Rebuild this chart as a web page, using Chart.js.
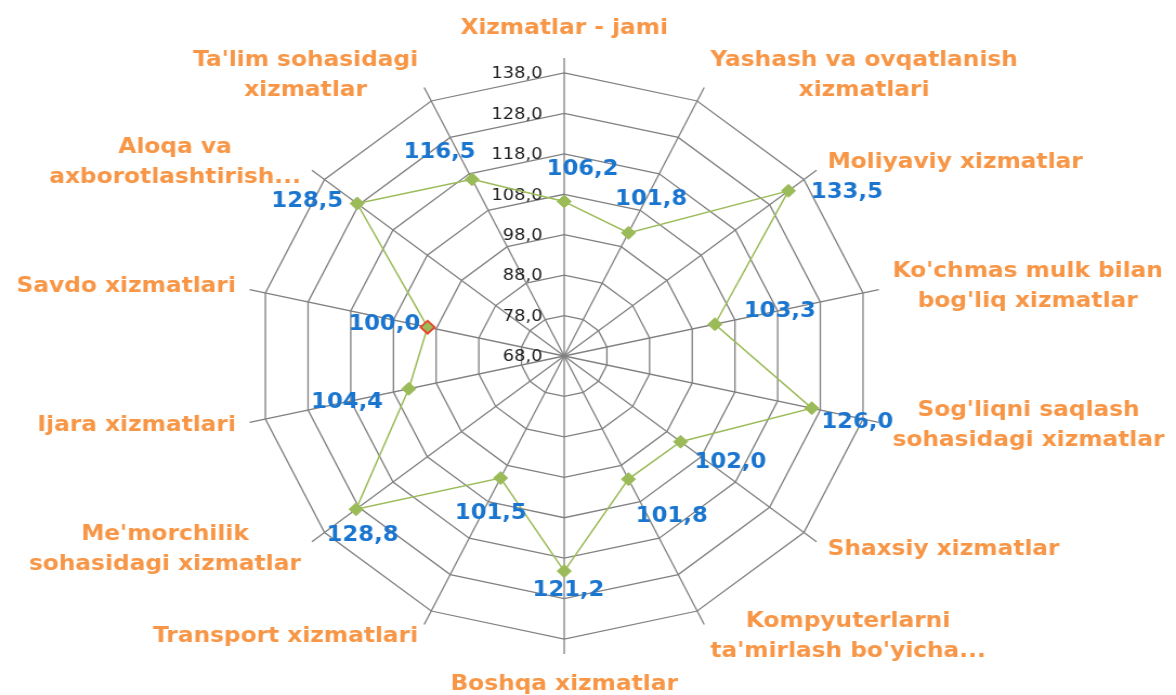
<!DOCTYPE html>
<html lang="uz">
<head>
    <meta charset="UTF-8">
    <title>Xizmatlar radar</title>
    <script src="https://cdn.jsdelivr.net/npm/chart.js"></script>
    <style>
        body { margin: 0; background: #fff; overflow: hidden; }
        /* the source picture is stretched sideways a little, so we stretch the canvas the same way */
        #wrap { position: absolute; left: 0; top: 0; width: 1086px; height: 695px;
                transform: scaleX(1.0829); transform-origin: 0 0; }
    </style>
</head>
<body>
    <div id="wrap"><canvas id="radarChart"></canvas></div>

    <script>
        const categories = [
            ['Xizmatlar - jami'],
            ['Yashash va ovqatlanish', 'xizmatlari'],
            ['Moliyaviy xizmatlar'],
            ["Ko'chmas mulk bilan", "bog'liq xizmatlar"],
            ["Sog'liqni saqlash", 'sohasidagi xizmatlar'],
            ['Shaxsiy xizmatlar'],
            ['Kompyuterlarni', "ta'mirlash bo'yicha..."],
            ['Boshqa xizmatlar'],
            ['Transport xizmatlari'],
            ["Me'morchilik", 'sohasidagi xizmatlar'],
            ['Ijara xizmatlari'],
            ['Savdo xizmatlari'],
            ['Aloqa va', 'axborotlashtirish...'],
            ["Ta'lim sohasidagi", 'xizmatlar']
        ];
        const values = [106.2, 101.8, 133.5, 103.3, 126.0, 102.0, 101.8, 121.2, 101.5, 128.8, 104.4, 100.0, 128.5, 116.5];
        const tickValues = [68, 78, 88, 98, 108, 118, 128, 138];

        // where each value label sits relative to its point (px)
        const labelNudge = [
            [17, -32], [21, -33], [54, 2], [60, -13], [42, 14], [46, 21], [40, 37],
            [4, 19], [-9, 36], [6, 26], [-57, 14], [-40, -3], [-46, -2], [-30, -27]
        ];

        const fmt = v => v.toFixed(1).replace('.', ',');

        const radarText = {
            id: 'radarText',
            beforeDatasetsDraw(chart) {
                const scale = chart.scales.r;
                const ctx = chart.ctx;
                ctx.save();

                // axis numbers, right of them the vertical spoke
                ctx.font = '16.5px "DejaVu Sans"';
                ctx.fillStyle = '#1e1e1e';
                ctx.textAlign = 'right';
                ctx.textBaseline = 'middle';
                tickValues.forEach(v => {
                    const y = scale.yCenter - scale.getDistanceFromCenterForValue(v);
                    ctx.fillText(fmt(v), scale.xCenter - 20, y + 1);
                });

                // category names
                ctx.font = 'bold 21.5px "DejaVu Sans"';
                ctx.fillStyle = '#f79646';
                ctx.textAlign = 'center';
                const lh = 30;
                categories.forEach((lines, i) => {
                    const s = Math.sin(scale.getIndexAngle(i));
                    const vertical = Math.abs(s) < 0.01;
                    const p = scale.getPointPosition(i, scale.drawingArea + (vertical ? 30 : 13));
                    const w = Math.max(...lines.map(l => ctx.measureText(l).width));
                    let x = p.x;
                    if (!vertical) x += s > 0 ? w / 2 : -w / 2;
                    const y0 = p.y - (lines.length - 1) * lh / 2;
                    lines.forEach((l, k) => ctx.fillText(l, x, y0 + k * lh));
                });
                ctx.restore();
            },
            afterDatasetsDraw(chart) {
                const ctx = chart.ctx;
                const meta = chart.getDatasetMeta(0);
                ctx.save();
                ctx.font = 'bold 21px "DejaVu Sans"';
                ctx.fillStyle = '#1a75cf';
                ctx.textAlign = 'center';
                ctx.textBaseline = 'middle';
                meta.data.forEach((pt, i) => {
                    const [dx, dy] = labelNudge[i];
                    ctx.fillText(fmt(values[i]), pt.x + dx, pt.y + dy);
                });
                ctx.restore();
            }
        };

        const ctx = document.getElementById('radarChart').getContext('2d');
        new Chart(ctx, {
            type: 'radar',
            data: {
                labels: categories,
                datasets: [{
                    data: values,
                    borderColor: '#9bbb59',
                    borderWidth: 1.5,
                    fill: false,
                    pointStyle: 'rectRot',
                    pointRadius: 6.5,
                    pointBackgroundColor: '#9bbb59',
                    pointBorderColor: values.map((v, i) => i === 11 ? '#e8412c' : '#9bbb59'),
                    pointBorderWidth: values.map((v, i) => i === 11 ? 1.8 : 1)
                }]
            },
            options: {
                responsive: true,
                maintainAspectRatio: false,
                animation: false,
                layout: { padding: { left: 223, right: 267, top: 58, bottom: 41 } },
                plugins: {
                    legend: { display: false },
                    tooltip: { enabled: false }
                },
                scales: {
                    r: {
                        min: 68,
                        max: 141.7,
                        afterBuildTicks: scale => { scale.ticks = tickValues.map(v => ({ value: v })); },
                        ticks: { display: false },
                        pointLabels: { display: false },
                        grid: { color: '#808080', lineWidth: 1.3 },
                        angleLines: { color: '#808080', lineWidth: 1.3 }
                    }
                }
            },
            plugins: [radarText]
        });
    </script>
</body>
</html>
